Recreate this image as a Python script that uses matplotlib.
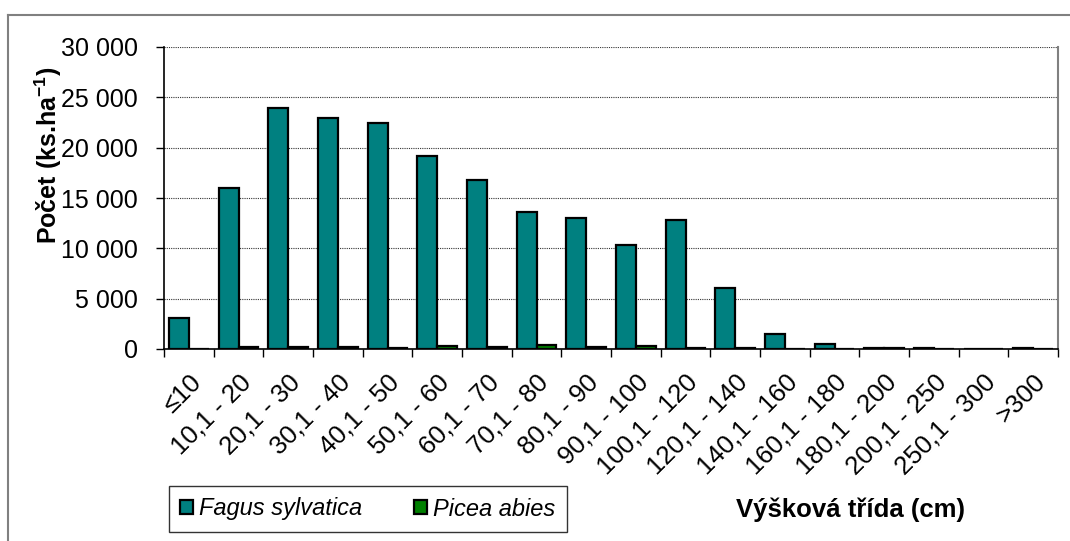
import matplotlib
matplotlib.use("Agg")
import matplotlib.pyplot as plt
import numpy as np
from matplotlib.lines import Line2D
from matplotlib.ticker import FuncFormatter, MultipleLocator

plt.rcParams["font.family"] = ["Liberation Sans", "DejaVu Sans"]
plt.rcParams["mathtext.fontset"] = "custom"
plt.rcParams["mathtext.rm"] = "Liberation Sans"
plt.rcParams["mathtext.bf"] = "Liberation Sans:bold"

categories = ["≤10", "10,1 - 20", "20,1 - 30", "30,1 - 40", "40,1 - 50",
              "50,1 - 60", "60,1 - 70", "70,1 - 80", "80,1 - 90", "90,1 - 100",
              "100,1 - 120", "120,1 - 140", "140,1 - 160", "160,1 - 180",
              "180,1 - 200", "200,1 - 250", "250,1 - 300", ">300"]
fagus = [3100, 15950, 23900, 22900, 22500, 19200, 16800, 13600, 13000,
         10300, 12800, 6100, 1500, 450, 60, 100, 0, 60]
picea = [0, 200, 200, 200, 100, 300, 150, 400, 150,
         250, 60, 60, 40, 0, 50, 0, 0, 0]

fig = plt.figure(figsize=(10.7, 5.41), dpi=100)
ax = fig.add_axes([164 / 1070, 1 - 349 / 541, 894 / 1070, 302 / 541])

x = np.arange(len(categories))
w = 0.4
ax.bar(x - w / 2, fagus, w, color="#008080", edgecolor="black", linewidth=1.6,
       label="Fagus sylvatica", zorder=3)
ax.bar(x + w / 2, picea, w, color="#008000", edgecolor="black", linewidth=1.6,
       label="Picea abies", zorder=3)

ax.set_xlim(-0.5, len(categories) - 0.5)
ax.set_ylim(0, 30000)
ax.yaxis.set_major_locator(MultipleLocator(5000))
ax.yaxis.set_major_formatter(FuncFormatter(lambda v, p: f"{int(v):,}".replace(",", " ")))
ax.tick_params(axis="y", labelsize=18, length=6, width=1, pad=13)
ax.grid(axis="y", color="#333333", linestyle=(0, (1, 1)), linewidth=0.8, zorder=0)

ax.set_xticks(x)
ax.set_xticklabels(categories, rotation=45, ha="right", rotation_mode="anchor",
                   fontsize=18.5)
ax.set_xticks(np.arange(-0.5, len(categories)), minor=True)
ax.tick_params(axis="x", which="major", length=0, pad=15)
ax.tick_params(axis="x", which="minor", length=6, width=1)

ax.spines["top"].set_visible(False)
ax.spines["right"].set_color("#808080")
ax.spines["right"].set_linewidth(1.5)
ax.spines["left"].set_linewidth(1.2)
ax.spines["bottom"].set_linewidth(1.2)

ax.set_ylabel(r"Počet (ks.ha$^{\mathbf{-1}}$)", fontsize=18, fontweight="bold")
ax.yaxis.set_label_coords(-0.112, 0.64)

fig.text(851 / 1070, 1 - 510 / 541, "Výšková třída (cm)", fontsize=18.5,
         fontweight="bold", ha="center", va="center")

leg = fig.legend(loc="center", bbox_to_anchor=(368 / 1070, 1 - 509 / 541),
                 ncol=2, frameon=True, fancybox=False, edgecolor="black",
                 prop={"size": 17, "style": "italic"}, handlelength=0.55,
                 handleheight=0.55, handletextpad=0.25, columnspacing=2.2,
                 borderpad=0.5, borderaxespad=0)
leg.get_frame().set_linewidth(1.0)

# outer chart frame
fig.add_artist(Line2D([8 / 1070, 8 / 1070], [0, 1 - 15 / 541], color="#808080", lw=1.5))
fig.add_artist(Line2D([8 / 1070, 1], [1 - 15 / 541, 1 - 15 / 541], color="#808080", lw=1.5))

fig.savefig("out.png", dpi=100)
